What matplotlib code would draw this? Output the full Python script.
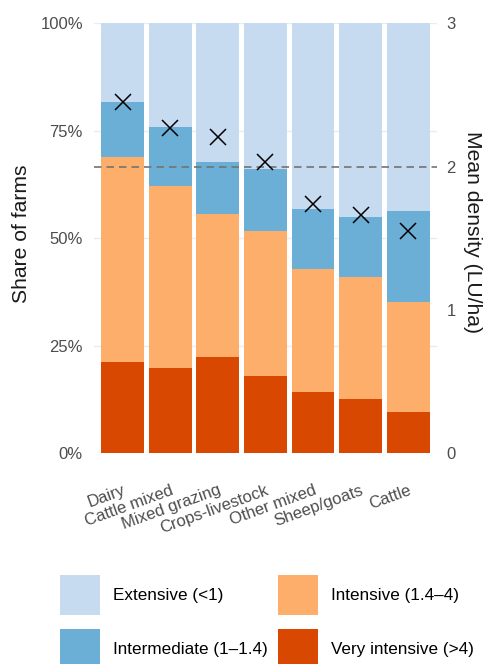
import matplotlib
matplotlib.use("Agg")
import matplotlib.pyplot as plt
from matplotlib.patches import Patch
import numpy as np

plt.rcParams["font.family"] = ["Liberation Sans", "DejaVu Sans"]

# Farm types, ordered by mean stocking density
farm_types = ["Dairy", "Cattle mixed", "Mixed grazing", "Crops-livestock",
              "Other mixed", "Sheep/goats", "Cattle"]

# Share of farms (%) in each stocking-density class
very_intensive = [21.2, 19.9, 22.3, 17.9, 14.2, 12.6, 9.6]
intensive = [47.7, 42.2, 33.3, 33.8, 28.6, 28.3, 25.7]
intermediate = [12.7, 13.8, 12.1, 14.4, 13.9, 14.1, 21.0]
extensive = [18.4, 24.1, 32.3, 33.9, 43.3, 45.0, 43.7]

# Mean livestock density (LU/ha) per farm type
mean_density = [2.45, 2.27, 2.21, 2.03, 1.74, 1.66, 1.55]
density_reference = 2.0

class_labels = ["Extensive (<1)", "Intermediate (1\u20131.4)",
                "Intensive (1.4\u20134)", "Very intensive (>4)"]
class_colors = ["#c6dbef", "#6baed6", "#fdae6b", "#d94801"]

share_ticks = [0, 25, 50, 75, 100]
density_ticks = [0, 1, 2, 3]
density_max = 3

W, H = 486, 664
fig = plt.figure(figsize=(W / 100, H / 100), dpi=100)
ax = fig.add_axes([94 / W, 1 - 453.3 / H, (436.7 - 94) / W, (453.3 - 23.3) / H])

x = np.arange(len(farm_types))
stack = [very_intensive, intensive, intermediate, extensive]
stack_colors = [class_colors[3], class_colors[2], class_colors[1], class_colors[0]]
bottom = np.zeros(len(farm_types))
for vals, col in zip(stack, stack_colors):
    v = np.array(vals) / 100
    ax.bar(x, v, bottom=bottom, width=0.9, color=col, linewidth=0, zorder=2)
    bottom += v

ax.set_xlim(-0.6, 6.6)
ax.set_ylim(0, 1)
ax.set_yticks([t / 100 for t in share_ticks])
ax.set_yticklabels([f"{t}%" for t in share_ticks])
ax.grid(axis="y", color="#ebebeb", linewidth=1.0, zorder=0)
ax.grid(axis="x", visible=False)
for s in ax.spines.values():
    s.set_visible(False)
ax.tick_params(axis="y", length=0, pad=8, labelsize=12, labelcolor="#4d4d4d")
ax.tick_params(axis="x", length=0, pad=21, labelsize=12, labelcolor="#4d4d4d")
ax.set_xticks(x)
ax.set_xticklabels(farm_types, rotation=20, ha="right", rotation_mode="anchor")

ax.set_ylabel("Share of farms", fontsize=15.2, color="#1a1a1a")
ax.yaxis.set_label_coords(-0.184, 0.51)

# Secondary axis for mean density
ax2 = ax.twinx()
ax2.set_ylim(0, density_max)
ax2.set_yticks(density_ticks)
ax2.set_yticklabels([str(t) for t in density_ticks])
for s in ax2.spines.values():
    s.set_visible(False)
ax2.tick_params(axis="y", length=0, pad=7, labelsize=12, labelcolor="#4d4d4d")
ax2.axhline(density_reference, color="#737373", linewidth=1.2,
            dashes=(4.5, 3), zorder=3)
ax2.plot(x, mean_density, linestyle="none", marker="x", markersize=12,
         markeredgewidth=1.1, color="black", zorder=4)
ax2.set_ylabel("Mean density (LU/ha)", fontsize=15.2, color="#1a1a1a",
               rotation=270, va="bottom")
ax2.yaxis.set_label_coords(1.078, 0.515)

handles = [Patch(facecolor=c, edgecolor="none") for c in class_colors]
fig.legend(handles, class_labels, ncol=2, loc="upper left",
           bbox_to_anchor=(60 / W, 1 - 575 / H), frameon=False,
           fontsize=12.3, handlelength=2.35, handleheight=3.23,
           handletextpad=0.78, columnspacing=0.55, labelspacing=0.82,
           borderpad=0, borderaxespad=0)

fig.savefig("out.png", dpi=100)
